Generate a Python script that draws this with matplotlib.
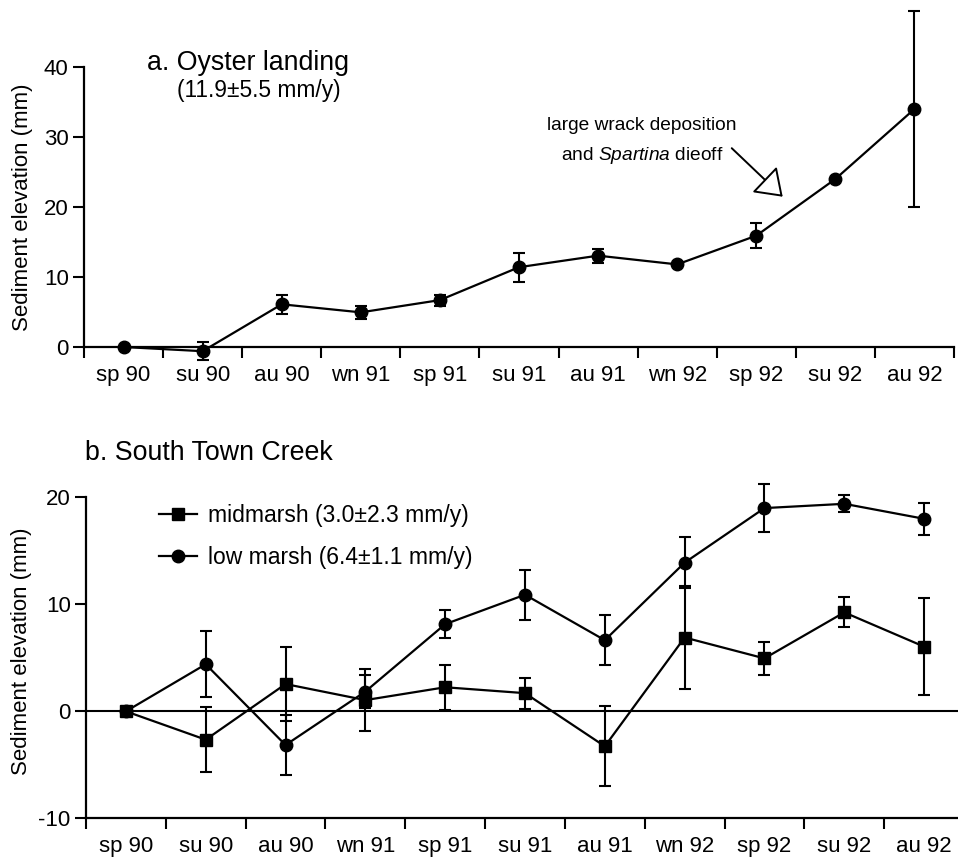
import numpy as np
import matplotlib
matplotlib.use("Agg")
import matplotlib.pyplot as plt

plt.rcParams['font.family'] = ['Liberation Sans', 'DejaVu Sans']
plt.rcParams['mathtext.fontset'] = 'custom'
plt.rcParams['mathtext.it'] = 'Liberation Sans:italic'
plt.rcParams['mathtext.rm'] = 'Liberation Sans'
plt.rcParams['axes.unicode_minus'] = False

seasons = ['sp 90', 'su 90', 'au 90', 'wn 91', 'sp 91', 'su 91',
           'au 91', 'wn 92', 'sp 92', 'su 92', 'au 92']

# a. Oyster landing
oyster = [0, -0.6, 6.1, 4.95, 6.7, 11.4, 13.05, 11.8, 15.9, 24.0, 34.0]
oyster_err = [0, 1.3, 1.4, 0.9, 0.8, 2.1, 1.0, 0, 1.75, 0, 14.0]

# b. South Town Creek
mid = [0, -2.65, 2.55, 1.05, 2.25, 1.7, -3.27, 6.9, 4.95, 9.25, 6.05]
mid_err = [0, 3.05, 3.5, 2.9, 2.1, 1.45, 3.75, 4.85, 1.55, 1.4, 4.5]
low = [0, 4.4, -3.15, 1.85, 8.15, 10.9, 6.65, 13.9, 19.0, 19.4, 18.0]
low_err = [0, 3.1, 2.8, 1.5, 1.3, 2.35, 2.35, 2.4, 2.25, 0.8, 1.5]

W, H = 958, 858
fig = plt.figure(figsize=(W / 100, H / 100), dpi=100)

x = np.arange(len(seasons)) + 0.5
lw = 1.6


def style_axis(ax):
    ax.set_xlim(0, len(seasons))
    ax.spines['top'].set_visible(False)
    ax.spines['right'].set_visible(False)
    for s in ['left', 'bottom']:
        ax.spines[s].set_linewidth(1.6)
    ax.set_xticks(np.arange(len(seasons) + 1))
    ax.set_xticklabels([])
    ax.set_xticks(x, minor=True)
    ax.set_xticklabels(seasons, minor=True, fontsize=16)
    ax.tick_params(axis='x', which='major', direction='out', length=8, width=1.5)
    ax.tick_params(axis='x', which='minor', length=0, pad=13)
    ax.tick_params(axis='y', direction='out', length=8, width=1.5, labelsize=16, pad=3)


# panel a
ax1 = fig.add_axes([84 / W, 1 - 368 / H, 870 / W, 364 / H])
ax1.errorbar(x, oyster, yerr=oyster_err, color='black', lw=lw, marker='o',
             ms=9, capsize=4, capthick=1.5, elinewidth=1.5)
ax1.set_ylim(-3, 49)
ax1.set_yticks([0, 10, 20, 30, 40])
ax1.spines['left'].set_bounds(0, 40)
ax1.spines['bottom'].set_position(('data', 0))
style_axis(ax1)
ax1.set_ylabel('Sediment elevation (mm)', fontsize=16)
ax1.yaxis.set_label_coords(-0.0586, 0.442)
ax1.annotate('', xy=(8.834, 21.47), xytext=(8.19, 28.4),
             arrowprops=dict(arrowstyle='-|>,head_length=0.81,head_width=0.57',
                             fc='white', ec='black', lw=1.4, mutation_scale=20,
                             shrinkA=0, shrinkB=0))

fig.text(147 / W, 1 - 70 / H, 'a. Oyster landing', fontsize=19.3, va='baseline')
fig.text(177 / W, 1 - 97 / H, '(11.9±5.5 mm/y)', fontsize=16.4, va='baseline')
fig.text(642 / W, 1 - 130 / H, 'large wrack deposition', fontsize=13.8,
         va='baseline', ha='center')
fig.text(642 / W, 1 - 160 / H, r'and $\it{Spartina}$ dieoff', fontsize=13.8,
         va='baseline', ha='center')

# panel b
ax2 = fig.add_axes([86 / W, 1 - 818.3 / H, 878 / W, 342.3 / H])
ax2.axhline(0, color='black', lw=1.5)
ax2.errorbar(x, mid, yerr=mid_err, color='black', lw=lw, marker='s',
             ms=9, capsize=4, capthick=1.5, elinewidth=1.5,
             label='midmarsh (3.0±2.3 mm/y)')
ax2.errorbar(x, low, yerr=low_err, color='black', lw=lw, marker='o',
             ms=9, capsize=4, capthick=1.5, elinewidth=1.5,
             label='low marsh (6.4±1.1 mm/y)')
ax2.set_ylim(-10, 22)
ax2.set_yticks([-10, 0, 10, 20])
ax2.spines['left'].set_bounds(-10, 20)
style_axis(ax2)
ax2.set_ylabel('Sediment elevation (mm)', fontsize=16)
ax2.yaxis.set_label_coords(-0.0615, 0.487)

handles, labels = ax2.get_legend_handles_labels()
handles = [h[0] for h in handles]
ax2.legend(handles, labels, loc='upper left', bbox_to_anchor=(0.083, 0.917),
           frameon=False, fontsize=16.5, handlelength=1.65, handletextpad=0.5,
           labelspacing=0.8, borderaxespad=0, borderpad=0)

fig.text(85 / W, 1 - 460 / H, 'b. South Town Creek', fontsize=19.3, va='baseline')

fig.savefig('out.png', dpi=100)
